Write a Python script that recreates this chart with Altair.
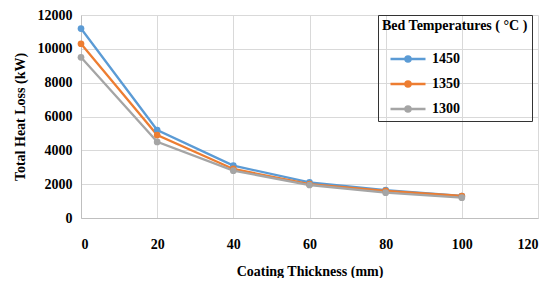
import altair as alt
import pandas as pd

thickness = [0, 20, 40, 60, 80, 100]
t1450 = [11200, 5200, 3100, 2100, 1650, 1300]
t1350 = [10300, 4900, 2900, 2000, 1600, 1300]
t1300 = [9500, 4500, 2800, 1950, 1500, 1200]
series = ["1450", "1350", "1300"]
colors = ["#5B9BD5", "#ED7D31", "#A5A5A5"]

rows = []
for name, vals in zip(series, [t1450, t1350, t1300]):
    for x, v in zip(thickness, vals):
        rows.append({"Thickness": x, "Loss": v, "Temp": name})
df = pd.DataFrame(rows)

font = "Liberation Serif"

color = alt.Color(
    "Temp:N",
    scale=alt.Scale(domain=series, range=colors),
    sort=series,
    legend=alt.Legend(
        title="Bed Temperatures ( °C )",
        orient="none",
        legendX=297,
        legendY=0,
        strokeColor="#333333",
        padding=4,
        titleFont=font,
        titleFontSize=14,
        titleFontWeight="bold",
        titleColor="#000000",
        labelFont=font,
        labelFontSize=14,
        labelFontWeight="bold",
        labelColor="#000000",
        symbolType="M-1.4,0H1.4M-0.2,0a0.2,0.2 0 1,0 0.4,0a0.2,0.2 0 1,0 -0.4,0",
        symbolSize=625,
        symbolStrokeWidth=2.5,
        symbolOffset=12,
        rowPadding=3,
        labelOffset=10,
        titlePadding=12,
    ),
)

x = alt.X(
    "Thickness:Q",
    scale=alt.Scale(domain=[0, 120], nice=False),
    axis=alt.Axis(
        title="Coating Thickness (mm)",
        values=[0, 20, 40, 60, 80, 100, 120],
        format="d",
        labelFont=font, labelFontSize=14, labelFontWeight="bold", labelColor="#000",
        titleFont=font, titleFontSize=14, titleFontWeight="bold", titleColor="#000",
        labelPadding=19, titlePadding=13,
        ticks=False, domainColor="#bfbfbf", gridColor="#d9d9d9",
    ),
)
y = alt.Y(
    "Loss:Q",
    scale=alt.Scale(domain=[0, 12000], nice=False),
    axis=alt.Axis(
        title="Total Heat Loss (kW)",
        values=list(range(0, 12001, 2000)),
        format="d",
        labelFont=font, labelFontSize=14, labelFontWeight="bold", labelColor="#000",
        titleFont=font, titleFontSize=14, titleFontWeight="bold", titleColor="#000",
        labelPadding=9, titlePadding=10,
        ticks=False, domainColor="#bfbfbf", gridColor="#d9d9d9",
    ),
)

chart = (
    alt.Chart(df)
    .mark_line(strokeWidth=2.3, point=alt.OverlayMarkDef(filled=True, size=45))
    .encode(x=x, y=y, color=color, order="Thickness:Q")
    .properties(
        width=457,
        height=203,
        autosize=alt.AutoSizeParams(type="none"),
        padding={"left": 73, "top": 7, "right": 8, "bottom": 60},
    )
    .configure_view(stroke=None)
)

chart.save("out.html", embed_options={"renderer": "svg", "actions": False})
